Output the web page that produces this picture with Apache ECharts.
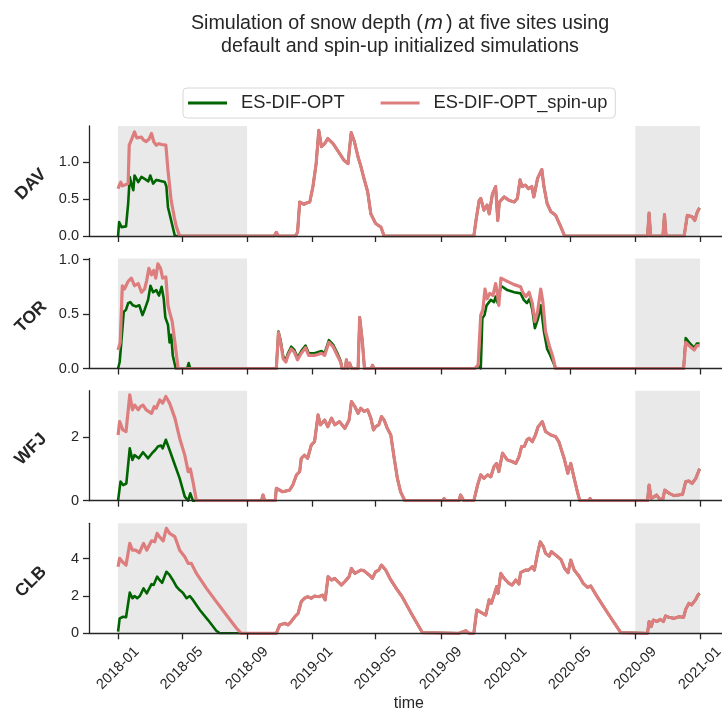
<!DOCTYPE html>
<html>
<head>
<meta charset="utf-8">
<script src="https://cdn.jsdelivr.net/npm/echarts@6/dist/echarts.min.js"></script>
<style>
html,body{margin:0;padding:0;background:#ffffff;}
#chart{width:722px;height:711px;}
</style>
</head>
<body>
<div id="chart"></div>
<script>
// ---------------- DATA ----------------
const START = '2018-01-01';               // day 0 of every series
const DATA_END_DAY = 1095;                 // 2020-12-31
const siteNames = ['DAV', 'TOR', 'WFJ', 'CLB'];
const seriesNames = ['ES-DIF-OPT', 'ES-DIF-OPT_spin-up'];
const xTickLabels = ['2018-01','2018-05','2018-09','2019-01','2019-05','2019-09','2020-01','2020-05','2020-09','2021-01'];
const shadedPeriods = [['2018-01-01','2018-09-01'], ['2020-09-01','2021-01-01']];
const davTicks = [0, 0.5, 1.0];
const torTicks = [0, 0.5, 1.0];
const wfjTicks = [0, 2];
const clbTicks = [0, 2, 4];
const yMaxBySite = [1.49, 1.01, 3.45, 5.9];

// snow depth (m): [days since START, value]
const dav2018Default = [[0,0],[2,0.19],[6.5,0.12],[15,0.13],[19,0.44],[22,0.80],[25,0.71],[28.7,0.62],[31,0.82],[38,0.73],[44,0.80],[53,0.76],[57,0.74],[60.6,0.82],[66,0.71],[72,0.76],[78,0.75],[88,0.73],[91,0.67],[94,0.39],[100,0.21],[107,0],[270,0],[273,0.02],[276,0]];
const dav2018Spinup = [[0,0.64],[3,0.70],[5,0.73],[8,0.68],[12.6,0.69],[19,0.71],[21,1.23],[25,1.30],[31,1.41],[35,1.33],[38,1.32],[44,1.34],[48,1.30],[53,1.28],[58,1.31],[63,1.39],[67,1.28],[72,1.23],[77,1.25],[82,1.24],[90,1.23],[94,0.89],[100,0.48],[106,0.25],[110,0.12],[116,0],[276,0]];
const davLater = [[294,0],[298,0.05],[302,0],[334,0],[338,0.05],[342,0.46],[350,0.43],[356,0.45],[361,0.46],[367,0.67],[373,0.98],[378,1.43],[383,1.21],[389,1.25],[395,1.32],[405,1.25],[417,1.12],[425,1.03],[433,0.98],[439,1.40],[445,1.28],[452,1.07],[457,0.95],[463,0.78],[470,0.60],[476,0.30],[485,0.17],[495,0.12],[501,0],[670,0],[674,0.21],[680,0.48],[683,0.51],[689,0.35],[695,0.42],[699,0.30],[705,0.57],[711,0.67],[715,0.21],[718,0.46],[727,0.53],[737,0.48],[746,0.46],[752,0.51],[757,0.76],[761,0.67],[767,0.69],[773,0.64],[779,0.67],[783,0.53],[790,0.78],[798,0.90],[802,0.67],[808,0.44],[815,0.33],[824,0.28],[834,0.12],[841,0],[997,0],[1000,0.31],[1003,0],[1026,0],[1029,0.29],[1032,0],[1066,0],[1072,0.28],[1081,0.26],[1086,0.21],[1091,0.33],[1095,0.38]];

const tor2018Default = [[0,0],[3,0.06],[5.6,0.21],[10.7,0.52],[15,0.54],[19,0.60],[23,0.61],[28,0.58],[34,0.57],[40,0.58],[46,0.49],[50,0.54],[56.5,0.63],[61,0.76],[66,0.70],[72,0.72],[77,0.67],[82,0.75],[86,0.64],[89,0.47],[94,0.40],[97,0.24],[100,0.31],[103,0.12],[108.6,0],[130,0],[133,0.05],[136,0]];
const tor2018Spinup = [[0,0.17],[4,0.24],[8,0.76],[12,0.73],[19,0.80],[25,0.83],[31,0.76],[38,0.78],[44,0.70],[50,0.73],[54,0.81],[58,0.92],[63,0.86],[67,0.90],[71,0.83],[75,0.96],[80,0.92],[84,0.83],[90,0.84],[94,0.58],[97,0.52],[102,0.43],[107,0.24],[113,0],[136,0]];
const torLaterDefault = [[298,0],[302,0.34],[306,0.26],[311,0.11],[316,0.08],[320,0.14],[326,0.20],[332,0.17],[338,0.10],[345,0.16],[353,0.21],[359,0.14],[370,0.14],[383,0.16],[389,0.14],[397,0.26],[405,0.22],[413,0.14],[419,0.07],[422,0],[428,0],[430,0.08],[433,0],[436,0.05],[440,0],[452,0],[455,0.47],[460,0.25],[464,0],[477,0],[479,0.03],[482,0],[672,0],[678,0.03],[683,0],[686,0.46],[690,0.49],[694,0.58],[702,0.63],[708,0.61],[711,0.66],[715,0.60],[721,0.76],[733,0.72],[746,0.70],[758,0.69],[764,0.63],[770,0.60],[775,0.64],[780,0.54],[785,0.37],[791,0.46],[796,0.58],[802,0.34],[808,0.18],[814,0.12],[820,0.05],[824,0],[1006,0],[1008,0.01],[1010,0],[1065,0],[1069,0.28],[1077,0.23],[1085,0.19],[1090,0.23],[1095,0.23]];
const torLaterSpinup = [[298,0],[302,0.33],[306,0.24],[311,0.09],[316,0.06],[320,0.12],[326,0.18],[332,0.15],[338,0.08],[345,0.14],[353,0.19],[359,0.12],[370,0.12],[383,0.14],[389,0.12],[397,0.24],[405,0.20],[413,0.12],[419,0.06],[422,0],[428,0],[430,0.08],[433,0],[436,0.05],[440,0],[452,0],[455,0.47],[460,0.25],[464,0],[477,0],[479,0.03],[482,0],[672,0],[678,0.03],[683,0.49],[687,0.54],[691,0.73],[695,0.64],[700,0.69],[706,0.67],[711,0.78],[714,0.70],[717,0.58],[721,0.83],[733,0.80],[746,0.77],[758,0.75],[762,0.70],[768,0.66],[774,0.70],[780,0.60],[785,0.43],[790,0.52],[796,0.73],[800,0.61],[805,0.34],[812,0.21],[818,0.12],[824,0],[1006,0],[1008,0.01],[1010,0],[1065,0],[1069,0.24],[1075,0.21],[1085,0.17],[1090,0.21],[1095,0.21]];

const wfj2018Default = [[0,0],[4.6,0.60],[9.6,0.49],[15.6,0.54],[22,1.64],[27,1.28],[31,1.43],[39,1.33],[47,1.52],[56.5,1.33],[64,1.49],[70,1.59],[75,1.70],[81,1.73],[84,1.64],[90,1.91],[97,1.59],[107,1.12],[116,0.70],[125.6,0.13],[132,0],[136,0.23],[141,0]];
const wfj2018Spinup = [[0,2.06],[3,2.48],[9,2.22],[15,2.17],[22,3.32],[27,2.85],[31,3.00],[38,2.85],[42,2.95],[47,3.00],[53,2.85],[63,2.74],[68,2.95],[72,2.90],[78.5,3.16],[84,3.06],[90,3.27],[97,3.06],[107,2.59],[116,1.96],[125.6,1.43],[132,0.91],[136,1.00],[141,0.60],[147.6,0]];
const wfjLater = [[270,0],[273,0.18],[276,0],[296,0],[298,0.39],[310,0.28],[323,0.33],[329,0.49],[336,0.81],[342,0.91],[345,1.33],[351,1.43],[357,1.33],[364,1.75],[370,1.85],[376.6,2.69],[381,2.38],[389,2.53],[395,2.32],[402,2.59],[408,2.38],[417,2.48],[427,2.27],[435,2.53],[439.5,3.11],[446,2.95],[452,2.74],[457,2.90],[463,2.80],[470,2.85],[476,2.59],[481,2.22],[485,2.32],[491,2.38],[496,2.64],[501,2.53],[507,2.27],[513.6,2.06],[520,1.33],[526,0.70],[532,0.28],[540,0],[611,0],[614,0.07],[617,0],[642,0],[645,0.18],[651,0],[670,0],[677,0.49],[683,0.81],[689,0.70],[696,0.81],[702,0.75],[708,1.07],[713,1.17],[717,0.91],[724,1.49],[733,1.28],[742,1.23],[749,1.17],[755,1.38],[760,1.70],[765,1.70],[770,1.91],[774,1.96],[780,1.85],[786,2.06],[791,2.32],[799,2.48],[805,2.17],[815,2.06],[824,2.01],[830,1.85],[840,1.33],[847,0.86],[852.5,1.17],[859,0.70],[865,0.28],[869.5,0],[886,0],[889,0.07],[892,0],[997,0],[1000,0.49],[1004,0.07],[1009,0.12],[1014,0.18],[1020,0.05],[1026,0.05],[1029.5,0.33],[1038,0.23],[1047,0.16],[1056,0.18],[1063,0.20],[1069,0.60],[1075,0.62],[1081,0.54],[1088,0.70],[1095,1.00]];

const clb2018Default = [[0,0.09],[3,0.80],[9.6,0.89],[15,0.86],[19,1.61],[22,2.18],[27,1.88],[31,2.00],[36,1.88],[41,2.00],[48,2.41],[54,2.14],[63,2.64],[67,2.59],[73.5,3.04],[78,2.86],[83,2.71],[91,3.30],[97,3.13],[103,2.86],[110,2.50],[116,2.32],[122,2.18],[129,1.88],[135,2.00],[141,1.79],[154,1.25],[169.5,0.71],[185,0.14],[191.5,0]];
const clb2018Spinup = [[0,3.57],[3,4.02],[8,3.84],[15,3.66],[22,4.82],[27,4.46],[33,4.46],[40,4.32],[48,4.82],[54,4.46],[63,4.96],[69,4.91],[73.5,5.36],[78,5.18],[85,4.96],[91,5.63],[97,5.36],[107,5.18],[116,4.46],[125.6,4.11],[132,3.75],[138,3.75],[147.6,3.21],[166.5,2.41],[185,1.70],[204,0.98],[223,0.27],[232,0]];
const clbLater = [[270,0],[273,0.09],[277,0],[298,0],[304.5,0.45],[314,0.54],[320,0.45],[326,0.63],[333,0.89],[339,1.07],[345,1.70],[351,1.88],[357,1.96],[364,1.88],[370,2.00],[378,1.96],[385,2.05],[390,1.79],[395.5,3.04],[402,2.86],[408,2.95],[414,2.77],[420.6,2.59],[427,2.77],[435,3.04],[439.5,3.48],[446,3.21],[457,3.39],[463,3.36],[472.7,3.13],[479,2.95],[485,3.30],[491,3.39],[496,3.66],[504,3.39],[513.6,2.86],[526,2.32],[535,1.96],[554,0.98],[573,0.04],[576,0],[642,0],[645,0.09],[655,0.14],[661,0],[670,0],[675.5,1.25],[681,1.16],[692.5,0.98],[698.7,1.79],[703,1.61],[708,2.05],[713,2.50],[715.5,2.14],[720.7,3.21],[727,2.95],[736,2.68],[742,2.59],[749,2.86],[755,2.64],[758,3.25],[767,3.39],[773,3.39],[780,3.57],[784,3.39],[790,4.29],[795,4.91],[801,4.64],[805,4.29],[812,4.14],[816,4.38],[824,4.20],[834,3.96],[841,3.48],[847.5,3.25],[852.5,3.93],[859,3.39],[868,3.07],[876,2.68],[884,2.46],[890,2.54],[903,1.93],[921.6,1.11],[937,0.45],[946.6,0.04],[950,0],[997,0],[1000,0.63],[1004,0.36],[1008,0.71],[1015,0.63],[1021,0.75],[1027,0.63],[1031,0.93],[1037,0.86],[1047,0.80],[1056,0.89],[1065,0.86],[1069,1.29],[1075,1.61],[1080,1.52],[1088,1.82],[1092,2.05],[1095,2.14]];

const defaultBySite = [dav2018Default.concat(davLater), tor2018Default.concat(torLaterDefault), wfj2018Default.concat(wfjLater), clb2018Default.concat(clbLater)];
const spinupBySite  = [dav2018Spinup.concat(davLater),  tor2018Spinup.concat(torLaterSpinup),  wfj2018Spinup.concat(wfjLater),  clb2018Spinup.concat(clbLater)];
const yTicksBySite = [davTicks, torTicks, wfjTicks, clbTicks];

// ---------------- CHART ----------------
const DAY = 86400000;
const t0 = Date.parse(START + 'T00:00:00Z');
const toTime = d => t0 + d * DAY;
const toPoints = arr => arr.map(p => [toTime(p[0]), p[1]]);
const pad = DATA_END_DAY * 0.05;
const xMin = toTime(-pad), xMax = toTime(DATA_END_DAY + pad);
const tickTimes = xTickLabels.map(s => Date.parse(s + '-01T00:00:00Z'));
const fmtMonth = v => { const d = new Date(v); return d.getUTCFullYear() + '-' + String(d.getUTCMonth() + 1).padStart(2, '0'); };

const FONT = 'Liberation Sans';
const INK = '#262626';
const GREEN = '#006400';
const PINK = '#dd7d7d';
const GRID_LEFT = 89, GRID_H = 110;
const gridTops = [126, 258.5, 390.7, 523.3];

const grids = [], xAxes = [], yAxes = [], series = [], siteLabels = [];
siteNames.forEach((site, i) => {
  const last = i === siteNames.length - 1;
  grids.push({ left: GRID_LEFT, width: 639.6, top: gridTops[i], height: GRID_H, outerBoundsMode: 'none', containLabel: false });
  xAxes.push({
    type: 'value', gridIndex: i, min: xMin, max: xMax, z: 5, scale: true,
    axisLine: { show: true, onZero: false, lineStyle: { color: INK, width: 1.3 } },
    axisTick: { show: true, length: 6, lineStyle: { color: INK, width: 1.3 }, customValues: tickTimes },
    axisLabel: { show: last, customValues: tickTimes, formatter: fmtMonth, rotate: 45, align: 'center', verticalAlign: 'middle',
                 margin: 35, fontSize: 14.5, color: INK, fontFamily: FONT, hideOverlap: false },
    splitLine: { show: false },
    name: last ? 'time' : '', nameLocation: 'middle', nameGap: 61,
    nameTextStyle: { fontSize: 16, color: INK, fontFamily: FONT }
  });
  const ticks = yTicksBySite[i];
  const decimals = ticks.some(v => v % 1 !== 0) ? 1 : 0;
  yAxes.push({
    type: 'value', gridIndex: i, min: 0, max: yMaxBySite[i], z: 5,
    axisLine: { show: true, lineStyle: { color: INK, width: 1.3 } },
    axisTick: { show: true, length: 6, lineStyle: { color: INK, width: 1.3 }, customValues: ticks },
    axisLabel: { customValues: ticks, formatter: v => Number(v).toFixed(decimals), margin: 10, fontSize: 14.5, color: INK, fontFamily: FONT },
    splitLine: { show: false }
  });
  // rotated site label (y-axis title), placed beside the panel centre
  siteLabels.push({
    type: 'text', x: GRID_LEFT - 58, y: gridTops[i] + GRID_H / 2 + 3.5, rotation: Math.PI / 4,
    style: { text: site, align: 'center', verticalAlign: 'middle', fill: INK,
             font: 'bold 17.5px "Liberation Sans"' }
  });
  series.push({
    type: 'line', xAxisIndex: i, yAxisIndex: i, data: [], z: 1, silent: true,
    markArea: { silent: true, itemStyle: { color: '#e9e9e9', opacity: 1 },
      data: shadedPeriods.map(p => [{ xAxis: Date.parse(p[0] + 'T00:00:00Z') }, { xAxis: Date.parse(p[1] + 'T00:00:00Z') }]) }
  });
  series.push({
    name: seriesNames[0], type: 'line', xAxisIndex: i, yAxisIndex: i, z: 2,
    data: toPoints(defaultBySite[i]), showSymbol: false, symbol: 'none',
    lineStyle: { color: GREEN, width: 2.6, join: 'round' }, itemStyle: { color: GREEN }
  });
  series.push({
    name: seriesNames[1], type: 'line', xAxisIndex: i, yAxisIndex: i, z: 3,
    data: toPoints(spinupBySite[i]), showSymbol: false, symbol: 'none',
    lineStyle: { color: PINK, width: 3.2, join: 'round' }, itemStyle: { color: PINK }
  });
});

const chart = echarts.init(document.getElementById('chart'), null, { renderer: 'canvas' });
chart.setOption({
  animation: false,
  backgroundColor: '#ffffff',
  title: {
    text: '{n|Simulation of snow depth (}{i|m}{n|) at five sites using}\n{n|default and spin-up initialized simulations}',
    left: 395, top: 7, textAlign: 'center',
    textStyle: {
      fontSize: 19.7, fontWeight: 'normal', color: INK, fontFamily: FONT, lineHeight: 23,
      rich: {
        n: { fontSize: 19.7, color: INK, fontFamily: FONT, lineHeight: 23 },
        i: { fontSize: 19.7, color: INK, fontFamily: 'DejaVu Sans', fontStyle: 'italic', lineHeight: 23, padding: [0, 3, 0, 1] }
      }
    }
  },
  legend: {
    data: seriesNames, left: 183, top: 88, orient: 'horizontal',
    icon: 'rect', itemWidth: 39, itemHeight: 3, itemGap: 36,
    textStyle: { fontSize: 18.3, color: INK, fontFamily: FONT, padding: [0, 0, 0, 9] },
    borderColor: '#d8d8d8', borderWidth: 1, borderRadius: 4, padding: [6, 8, 6, 5], backgroundColor: '#ffffff'
  },
  graphic: siteLabels,
  grid: grids, xAxis: xAxes, yAxis: yAxes, series: series
});
</script>
</body>
</html>
